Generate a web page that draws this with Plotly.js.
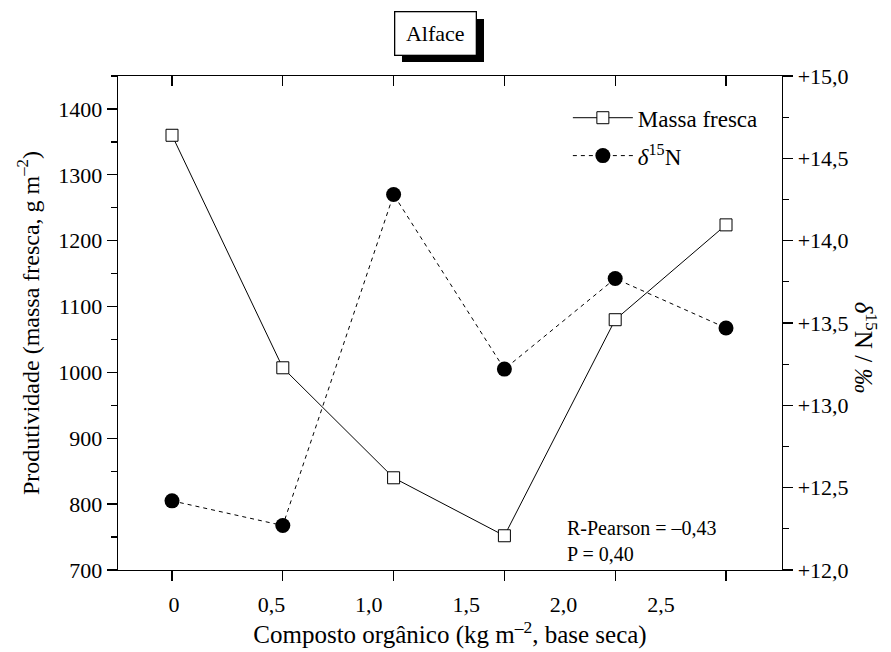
<!DOCTYPE html>
<html>
<head>
<meta charset="utf-8">
<script src="https://cdn.plot.ly/plotly-3.0.1.min.js"></script>
<style>html,body{margin:0;padding:0;background:#fff;}#chart{width:891px;height:652px;}</style>
</head>
<body>
<div id="chart"></div>
<script>
// ---- data ----
const doses = [0, 0.5, 1.0, 1.5, 2.0, 2.5];
const massaFresca = [1360, 1007, 840, 752, 1080, 1224];
const delta15N = [12.42, 12.27, 14.28, 13.22, 13.77, 13.47];
const xLabelVals = [0, 0.5, 1.0, 1.5, 2.0, 2.5];
const xLabelText = ["0", "0,5", "1,0", "1,5", "2,0", "2,5"];
const y2TickVals = [12.0, 12.5, 13.0, 13.5, 14.0, 14.5, 15.0];
const y2TickText = ["+12,0", "+12,5", "+13,0", "+13,5", "+14,0", "+14,5", "+15,0"];
const seriesNames = ["Massa fresca", "<i>δ</i><sup>15</sup>N"];

const FONT = "'Liberation Serif', 'Times New Roman', Times, serif";
const LW = 1.3;
const XRANGE = [-0.2437, 2.7527];
// in the original figure the tick labels are drawn slightly compressed relative to the ticks
const labelPos = xLabelVals.map(v => v * 0.879 + 0.009);

const traces = [
  {
    x: doses, y: massaFresca, name: seriesNames[0], type: "scatter", mode: "lines+markers",
    xaxis: "x", yaxis: "y", legendgroup: "a",
    line: {color: "#000", width: 1},
    marker: {symbol: "square", size: 12, color: "#fff", line: {color: "#000", width: 1}}
  },
  {
    x: doses, y: delta15N, name: seriesNames[1], type: "scatter", mode: "lines+markers",
    xaxis: "x2", yaxis: "y2", legendgroup: "b",
    line: {color: "#000", width: 1, dash: "4px,4px"},
    marker: {symbol: "circle", size: 15, color: "#000", line: {color: "#000", width: 0}}
  }
];

const layout = {
  width: 891, height: 652,
  margin: {l: 118, r: 109, t: 76, b: 82},
  paper_bgcolor: "#fff", plot_bgcolor: "#fff",
  font: {family: FONT, size: 22, color: "#000"},
  showlegend: true,
  legend: {
    x: 0.6775, y: 0.959, xanchor: "left", yanchor: "top",
    bgcolor: "rgba(0,0,0,0)", borderwidth: 0,
    font: {family: FONT, size: 23, color: "#000"},
    itemwidth: 60, traceorder: "grouped", tracegroupgap: 5
  },
  xaxis: {
    range: XRANGE, tickmode: "array", tickvals: labelPos, ticktext: xLabelText,
    ticks: "outside", ticklen: 10, tickcolor: "rgba(0,0,0,0)", ticklabelstandoff: 4,
    minor: {tickmode: "array", tickvals: doses, ticks: "outside", ticklen: 10, tickwidth: LW, tickcolor: "#000", showgrid: false},
    showline: true, linewidth: LW, linecolor: "#000",
    showgrid: false, zeroline: false,
    tickfont: {family: FONT, size: 22, color: "#000"},
    title: {text: "Composto orgânico (kg m<sup>–2</sup>, base seca)", font: {family: FONT, size: 25, color: "#000"}, standoff: 7}
  },
  xaxis2: {
    overlaying: "x", anchor: "y2", side: "top",
    range: XRANGE, tickvals: doses, showticklabels: false,
    ticks: "inside", ticklen: 10, tickwidth: LW, tickcolor: "#000",
    showline: true, linewidth: LW, linecolor: "#000",
    showgrid: false, zeroline: false
  },
  yaxis: {
    range: [700, 1450], tick0: 700, dtick: 100,
    ticks: "outside", ticklen: 10, tickwidth: LW, tickcolor: "#000",
    minor: {dtick: 50, ticks: "outside", ticklen: 6, tickwidth: LW, tickcolor: "#000", showgrid: false},
    showline: true, linewidth: LW, linecolor: "#000",
    showgrid: false, zeroline: false,
    tickfont: {family: FONT, size: 22, color: "#000"},
    title: {text: "Produtividade (massa fresca, g m<sup>–2</sup>)", font: {family: FONT, size: 24, color: "#000"}, standoff: 12}
  },
  yaxis2: {
    overlaying: "y", side: "right", anchor: "x2",
    range: [12, 15], tickvals: y2TickVals, ticktext: y2TickText,
    ticks: "outside", ticklen: 10, tickwidth: LW, tickcolor: "#000",
    minor: {dtick: 0.25, ticks: "outside", ticklen: 6, tickwidth: LW, tickcolor: "#000", showgrid: false},
    showline: true, linewidth: LW, linecolor: "#000",
    showgrid: false, zeroline: false,
    tickfont: {family: FONT, size: 22, color: "#000"}
  },
  shapes: [
    {type: "rect", xref: "paper", yref: "paper",
     x0: 0.4277, x1: 0.5512, y0: 1.0283, y1: 1.1154,
     fillcolor: "#000", line: {width: 0}, layer: "above"}
  ],
  annotations: [
    {text: "Alface", xref: "paper", yref: "paper", x: 0.4789, y: 1.087,
     xanchor: "center", yanchor: "middle", showarrow: false,
     font: {family: FONT, size: 22, color: "#000"},
     bgcolor: "#fff", bordercolor: "#000", borderwidth: 1.3, borderpad: 2,
     width: 76, height: 38},
    {text: "<i>δ</i><sup>15</sup>N / <i>‰</i>", xref: "paper", yref: "paper",
     x: 1.1265, y: 0.45, xanchor: "center", yanchor: "middle", textangle: 90,
     showarrow: false, font: {family: FONT, size: 25, color: "#000"}},
    {text: "R-Pearson = –0,43<br>P = 0,40", xref: "paper", yref: "paper",
     x: 0.673, y: 0.0587, xanchor: "left", yanchor: "middle", align: "left",
     showarrow: false, font: {family: FONT, size: 20, color: "#000"}}
  ]
};

Plotly.newPlot("chart", traces, layout, {displayModeBar: false, staticPlot: true});
</script>
</body>
</html>
